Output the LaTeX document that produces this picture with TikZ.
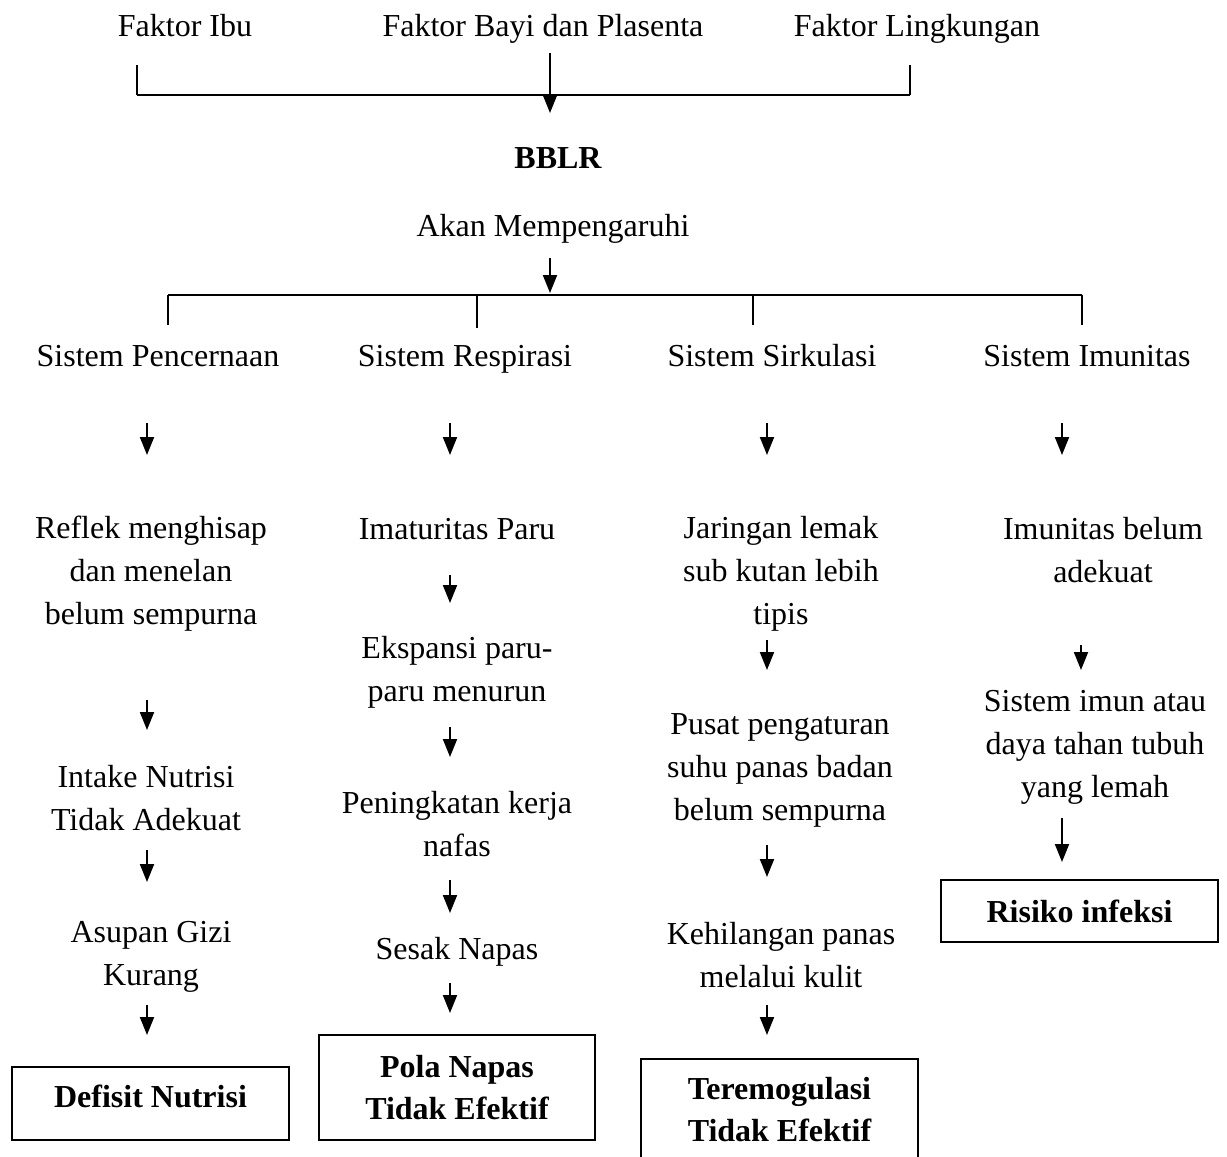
\documentclass[tikz,border=0pt]{standalone}
\usepackage{fontspec}
\setmainfont{Liberation Serif}
\usetikzlibrary{arrows.meta}
\begin{document}
\begin{tikzpicture}[x=0.5pt,y=-0.5pt,
 txt/.style={align=center,inner sep=0pt,font=\fontsize{16}{21.5}\selectfont},
 sl/.style={text height=11pt,text depth=3.5pt},
 btxt/.style={align=center,inner sep=0pt,font=\fontsize{16}{21}\selectfont\bfseries},
 box/.style={draw,line width=1pt,btxt,minimum width=138.5pt},
 arr/.style={line width=1pt,-{Triangle[width=7pt,length=9pt]}},
 ln/.style={line width=1pt},
 tick/.style={line width=0.7pt}]
\useasboundingbox (0,0) rectangle (1227,1157);
% top factors
\node[txt,sl] (fi) at (185,29) {Faktor Ibu};
\node[txt,sl] (fb) at (543,29) {Faktor Bayi dan Plasenta};
\node[txt,sl] (fl) at (917,29) {Faktor Lingkungan};
\node[btxt,sl] (bblr) at (558,161) {BBLR};
\node[txt,sl] (akan) at (553,229) {Akan Mempengaruhi};
% systems
\node[txt,sl] (s1) at (158,359) {Sistem Pencernaan};
\node[txt,sl] (s2) at (465,359) {Sistem Respirasi};
\node[txt,sl] (s3) at (772,359) {Sistem Sirkulasi};
\node[txt,sl] (s4) at (1087,359) {Sistem Imunitas};
% column 1
\node[txt] (c1a) at (151,574) {Reflek menghisap\\dan menelan\\belum sempurna};
\node[txt] (c1b) at (146,798) {Intake Nutrisi\\Tidak Adekuat};
\node[txt] (c1c) at (151,957) {Asupan Gizi\\Kurang};
\node[box,minimum height=36.5pt,text height=11pt,text depth=7pt] (d1) at (150.5,1103.5) {Defisit Nutrisi};
% column 2
\node[txt,sl] (c2a) at (457,532) {Imaturitas Paru};
\node[txt] (c2b) at (457,672) {Ekspansi paru-\\paru menurun};
\node[txt] (c2c) at (457,824) {Peningkatan kerja\\nafas};
\node[txt,sl] (c2d) at (457,952) {Sesak Napas};
\node[box,minimum width=138pt,minimum height=52.5pt] (d2) at (457,1087.5) {Pola Napas\\Tidak Efektif};
% column 3
\node[txt] (c3a) at (781,574) {Jaringan lemak\\sub kutan lebih\\tipis};
\node[txt] (c3b) at (780,770) {Pusat pengaturan\\suhu panas badan\\belum sempurna};
\node[txt] (c3c) at (781,955) {Kehilangan panas\\melalui kulit};
\node[box,minimum height=51pt] (d3) at (779.5,1110) {Teremogulasi\\Tidak Efektif};
% column 4
\node[txt] (c4a) at (1103,550) {Imunitas belum\\adekuat};
\node[txt] (c4b) at (1095,747) {Sistem imun atau\\daya tahan tubuh\\yang lemah};
\node[box,minimum height=31pt] (d4) at (1079.5,911) {Risiko infeksi};
% top bracket
\coordinate (bl) at (137,65);
\coordinate (br) at (910,65);
\draw[tick] (bl) -- (137,95);
\draw[tick] (br) -- (910,95);
\draw[ln] (137,95) -- (910,95);
% second bracket
\draw[ln] (168,295) -- (1082,295);
\foreach \x/\e in {168/325,477/328,753/325,1082/325}{
  \draw[tick] (\x,295) -- (\x,\e);
}
% arrows
\foreach \n/\x/\a/\b in {
  top/550/53/113, akn/550/258/293,
  a11/147/423/455, a12/147/700/730, a13/147/850/882, a14/147/1005/1035,
  a21/450/423/455, a22/450/575/603, a23/450/727/757, a24/450/880/913, a25/450/983/1013,
  a31/767/423/455, a32/767/640/670, a33/767/845/877, a34/767/1005/1035,
  a41/1062/423/455, a42/1081/645/670, a43/1062/818/862}{
  \coordinate (t\n) at (\x,\a);
  \coordinate (h\n) at (\x,\b);
  \draw[arr] (t\n) -- (h\n);
}
\end{tikzpicture}
\end{document}
